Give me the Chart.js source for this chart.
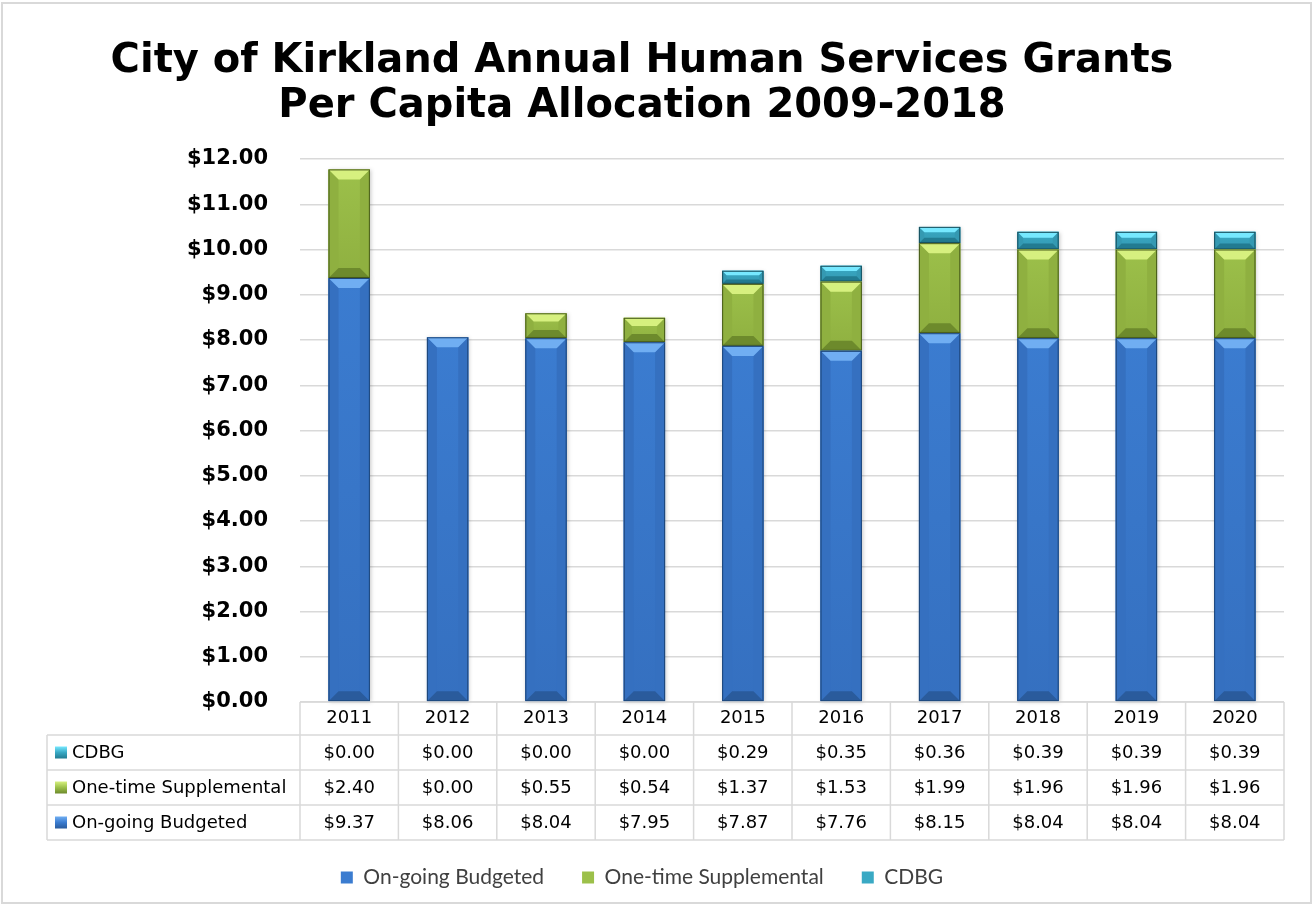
<!DOCTYPE html>
<html>
<head>
<meta charset="utf-8">
<script src="https://cdn.jsdelivr.net/npm/chart.js@4.4.1/dist/chart.umd.min.js"></script>
<style>
  html, body { margin: 0; padding: 0; background: #ffffff; }
  #wrap { width: 1313px; height: 905px; }
</style>
</head>
<body>
<div id="wrap"><canvas id="c" width="1313" height="905"></canvas></div>
<script>
// ---------- data ----------
const years = ['2011', '2012', '2013', '2014', '2015', '2016', '2017', '2018', '2019', '2020'];
const ongoingBudgeted = [9.37, 8.06, 8.04, 7.95, 7.87, 7.76, 8.15, 8.04, 8.04, 8.04];
const oneTimeSupplemental = [2.40, 0.00, 0.55, 0.54, 1.37, 1.53, 1.99, 1.96, 1.96, 1.96];
const cdbg = [0.00, 0.00, 0.00, 0.00, 0.29, 0.35, 0.36, 0.39, 0.39, 0.39];
const titleLines = ['City of Kirkland Annual Human Services Grants', 'Per Capita Allocation 2009-2018'];
const seriesNames = ['On-going Budgeted', 'One-time Supplemental', 'CDBG'];

// ---------- styles ----------
const palette = [
  { face: '#3b7cd0', top: '#70aef2', bottom: '#2a5b9c', side: '#3570c0', edge: '#1d4679' },
  { face: '#9cc04a', top: '#d6f07f', bottom: '#6d8a2c', side: '#8fb040', edge: '#485c1b' },
  { face: '#39a9c4', top: '#76e8ff', bottom: '#227b91', side: '#3499b2', edge: '#174f5e' }
];
const gridColor = '#d9d9d9';

const bevelPlugin = {
  id: 'bevel',
  afterDatasetDraw(chart, args) {
    const ctx = chart.ctx;
    const meta = args.meta;
    const pal = palette[args.index];
    ctx.save();
    meta.data.forEach((el) => {
      const p = el.getProps(['x', 'y', 'base', 'width'], true);
      const L = p.x - p.width / 2, R = p.x + p.width / 2;
      const T = Math.min(p.y, p.base), B = Math.max(p.y, p.base);
      const h = B - T;
      if (h < 0.5) return;
      const b = Math.min(10, h / 3, p.width / 4);
      // face gradient with soft shadow
      ctx.save();
      ctx.shadowColor = 'rgba(0,0,0,0.22)';
      ctx.shadowBlur = 4;
      ctx.shadowOffsetX = 1;
      ctx.shadowOffsetY = 1;
      const g = ctx.createLinearGradient(0, T, 0, B);
      g.addColorStop(0, pal.face);
      g.addColorStop(1, pal.side);
      ctx.fillStyle = g;
      ctx.fillRect(L, T, R - L, h);
      ctx.restore();
      // sides
      ctx.fillStyle = pal.side;
      ctx.beginPath(); ctx.moveTo(L, T); ctx.lineTo(L + b, T + b); ctx.lineTo(L + b, B - b); ctx.lineTo(L, B); ctx.closePath(); ctx.fill();
      ctx.beginPath(); ctx.moveTo(R, T); ctx.lineTo(R - b, T + b); ctx.lineTo(R - b, B - b); ctx.lineTo(R, B); ctx.closePath(); ctx.fill();
      // top bevel
      ctx.fillStyle = pal.top;
      ctx.beginPath(); ctx.moveTo(L, T); ctx.lineTo(R, T); ctx.lineTo(R - b, T + b); ctx.lineTo(L + b, T + b); ctx.closePath(); ctx.fill();
      // bottom bevel
      ctx.fillStyle = pal.bottom;
      ctx.beginPath(); ctx.moveTo(L, B); ctx.lineTo(R, B); ctx.lineTo(R - b, B - b); ctx.lineTo(L + b, B - b); ctx.closePath(); ctx.fill();
      // edge
      ctx.strokeStyle = pal.edge;
      ctx.lineWidth = 1;
      ctx.strokeRect(L + 0.5, T + 0.5, R - L - 1, h - 1);
    });
    ctx.restore();
  }
};

const tablePlugin = {
  id: 'dataTable',
  afterDraw(chart) {
    const ctx = chart.ctx;
    const area = chart.chartArea;
    const xs = chart.scales.x;
    const n = years.length;
    const cw = (area.right - area.left) / n;
    const top = area.bottom;
    const headerH = 33, rowH = 35;
    const labelLeft = 47;
    const rows = [
      { name: seriesNames[2], vals: cdbg, pal: palette[2] },
      { name: seriesNames[1], vals: oneTimeSupplemental, pal: palette[1] },
      { name: seriesNames[0], vals: ongoingBudgeted, pal: palette[0] }
    ];
    const bottom = top + headerH + rowH * rows.length;
    ctx.save();
    ctx.strokeStyle = gridColor;
    ctx.lineWidth = 1.5;
    ctx.beginPath();
    ctx.moveTo(area.left, top); ctx.lineTo(area.right, top);
    for (let r = 0; r <= rows.length; r++) {
      const y = top + headerH + r * rowH;
      ctx.moveTo(labelLeft, y); ctx.lineTo(area.right, y);
    }
    for (let i = 0; i <= n; i++) {
      const x = area.left + i * cw;
      ctx.moveTo(x, top); ctx.lineTo(x, bottom);
    }
    ctx.moveTo(labelLeft, top + headerH); ctx.lineTo(labelLeft, bottom);
    ctx.stroke();

    ctx.font = '18px "DejaVu Sans"';
    ctx.fillStyle = '#000000';
    ctx.textBaseline = 'middle';
    rows.forEach((row, r) => {
      const yc = top + headerH + r * rowH + rowH / 2;
      const g = ctx.createLinearGradient(0, yc - 6, 0, yc + 6);
      g.addColorStop(0, row.pal.top);
      g.addColorStop(0.5, row.pal.face);
      g.addColorStop(1, row.pal.bottom);
      ctx.fillStyle = g;
      ctx.fillRect(55, yc - 6, 12, 12);
      ctx.fillStyle = '#000000';
      ctx.textAlign = 'left';
      ctx.fillText(row.name, 72, yc + 1);
      ctx.textAlign = 'center';
      row.vals.forEach((v, i) => {
        const x = xs.getPixelForValue(i);
        ctx.fillText('$' + v.toFixed(2), x, yc + 1);
      });
    });
    // outer chart border
    ctx.strokeStyle = gridColor;
    ctx.lineWidth = 2;
    ctx.strokeRect(2, 3, 1309, 900);
    ctx.restore();
  }
};

const ctx = document.getElementById('c').getContext('2d');
new Chart(ctx, {
  type: 'bar',
  data: {
    labels: years,
    datasets: [
      { label: seriesNames[0], data: ongoingBudgeted, backgroundColor: palette[0].face, borderWidth: 0 },
      { label: seriesNames[1], data: oneTimeSupplemental, backgroundColor: palette[1].face, borderWidth: 0 },
      { label: seriesNames[2], data: cdbg, backgroundColor: palette[2].face, borderWidth: 0 }
    ]
  },
  options: {
    responsive: false,
    animation: false,
    devicePixelRatio: 1,
    layout: { padding: { top: 0, left: 0, right: 29, bottom: 7 } },
    datasets: { bar: { categoryPercentage: 1.0, barPercentage: 0.42 } },
    scales: {
      x: {
        stacked: true,
        grid: { display: false, drawTicks: false },
        border: { display: false },
        ticks: { color: '#000000', font: { family: 'DejaVu Sans', size: 18 }, padding: 6, maxRotation: 0 },
        afterFit(scale) { scale.height = 127; }
      },
      y: {
        stacked: true,
        min: 0,
        max: 12,
        grid: { color: gridColor, lineWidth: 1.5, drawTicks: false },
        border: { display: false },
        ticks: {
          stepSize: 1,
          padding: 32,
          color: '#000000',
          font: { family: 'DejaVu Sans', size: 21, weight: 'bold' },
          callback: (v) => '$' + Number(v).toFixed(2)
        },
        afterFit(scale) { scale.width = 300; }
      }
    },
    plugins: {
      title: {
        display: true,
        text: titleLines,
        color: '#000000',
        font: { family: 'DejaVu Sans', size: 40, weight: 'bold', lineHeight: 1.125 },
        padding: { top: 39, bottom: 30 }
      },
      legend: {
        position: 'bottom',
        maxHeight: 78,
        labels: {
          color: '#404040',
          font: { family: 'Lato', size: 21 },
          boxWidth: 12,
          boxHeight: 12,
          padding: 38
        }
      },
      tooltip: { enabled: false }
    }
  },
  plugins: [bevelPlugin, tablePlugin]
});
</script>
</body>
</html>
